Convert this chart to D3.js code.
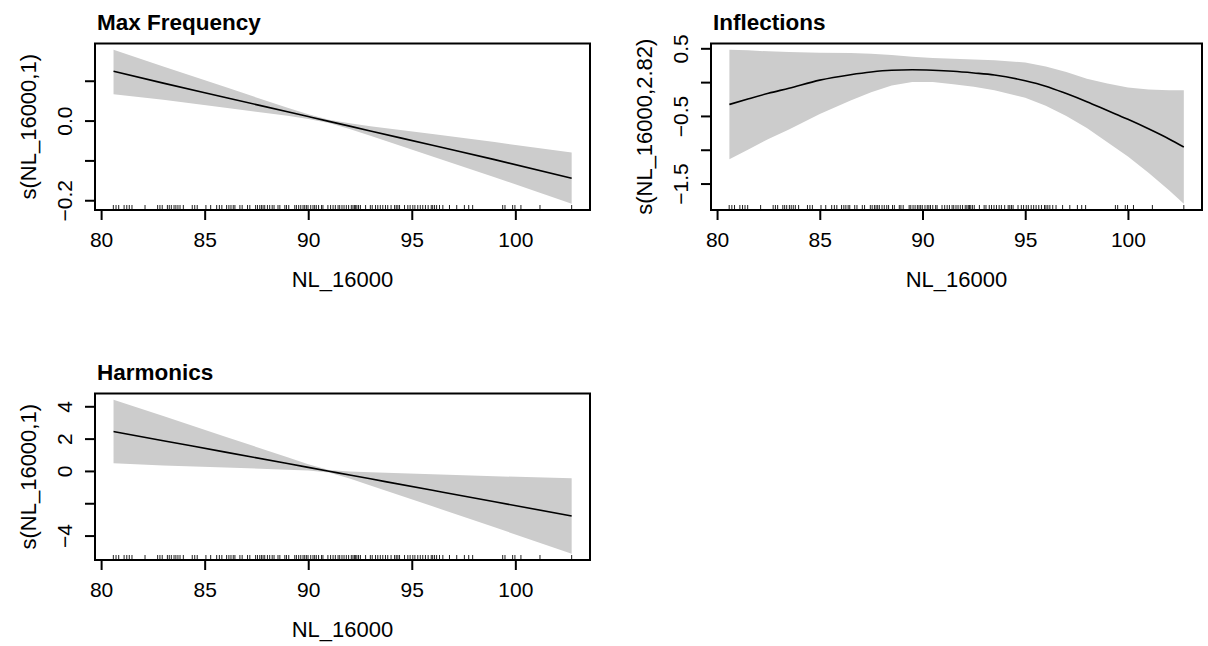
<!DOCTYPE html>
<html>
<head>
<meta charset="utf-8">
<script src="https://cdn.jsdelivr.net/npm/d3@7"></script>
<style>
  body { margin: 0; background: #fff; }
  svg { display: block; font-family: "Liberation Sans", Arial, sans-serif; }
  .tick line { stroke: #000; stroke-width: 2; }
  .domain { stroke: #000; stroke-width: 2; }
</style>
</head>
<body>
<svg width="1208" height="646"></svg>
<script>
// observed NL_16000 values (rug)
var rugX = [80.59, 80.72, 80.85, 81.11, 81.24, 81.36, 81.49, 82.12, 82.73, 82.84, 82.95,
  83.2, 83.29, 83.39, 83.52, 83.61, 83.71, 83.81, 83.97, 84.4, 84.52, 84.64, 85.06, 85.29,
  85.58, 85.71, 85.83, 86.06, 86.17, 86.27, 86.38, 86.46, 86.7, 86.81, 87.07, 87.18, 87.46,
  87.55, 87.66, 87.74, 87.82, 87.9, 88.03, 88.14, 88.26, 88.35, 88.54, 88.63, 88.87, 88.95,
  89.06, 89.35, 89.43, 89.54, 89.64, 89.75, 89.83, 89.91, 89.99, 90.12, 90.23, 90.31, 90.39,
  90.5, 90.64, 90.71, 90.95, 91.08, 91.2, 91.31, 91.44, 91.52, 91.63, 91.73, 91.84, 91.95,
  92.08, 92.16, 92.23, 92.29, 92.35, 92.43, 92.52, 92.77, 93.0, 93.09, 93.25, 93.36, 93.48,
  93.6, 93.73, 93.84, 94.0, 94.17, 94.25, 94.33, 94.41, 94.65, 94.81, 94.92, 95.05, 95.15,
  95.29, 95.41, 95.53, 95.66, 95.79, 95.94, 96.01, 96.1, 96.2, 96.34, 96.5, 96.82, 97.17,
  97.54, 97.75, 97.94, 99.39, 99.5, 99.87, 99.98, 100.27, 101.19, 102.72];

var xTicks = [80, 85, 90, 95, 100];

// linear smooths (Max Frequency, Harmonics)
var linX = [80.6, 83, 86, 89, 90, 91, 92, 93, 96, 99, 102.72];
var mfFit   = [0.124, 0.094, 0.058, 0.022, 0.010, -0.002, -0.014, -0.026, -0.062, -0.098, -0.145];
var mfUpper = [0.178, 0.136, 0.084, 0.032, 0.016, 0.002, -0.007, -0.014, -0.034, -0.054, -0.080];
var mfLower = [0.066, 0.052, 0.032, 0.012, 0.004, -0.006, -0.021, -0.038, -0.090, -0.142, -0.209];

var harFit   = [2.44, 1.873, 1.165, 0.456, 0.220, -0.016, -0.253, -0.489, -1.197, -1.906, -2.79];
var harUpper = [4.41, 3.40, 2.12, 0.84, 0.42, 0.06, -0.03, -0.08, -0.21, -0.33, -0.45];
var harLower = [0.47, 0.34, 0.22, 0.08, 0.02, -0.10, -0.47, -0.90, -2.19, -3.49, -5.13];

// Inflections smooth
var infX = [80.6, 81.5, 82.5, 83.5, 85, 86.5, 87.5, 88.5, 89.5, 90.5, 91.5, 92.5, 93.5,
  95, 96, 97, 98, 99, 100, 101, 102, 102.72];
var infFit = [-0.33, -0.25, -0.165, -0.09, 0.03, 0.11, 0.15, 0.175, 0.182, 0.175, 0.16, 0.135,
  0.105, 0.02, -0.06, -0.17, -0.29, -0.42, -0.55, -0.69, -0.84, -0.96];
var infUpper = [0.48, 0.47, 0.455, 0.445, 0.435, 0.43, 0.42, 0.40, 0.375, 0.355, 0.345, 0.335,
  0.325, 0.29, 0.23, 0.15, 0.05, -0.02, -0.08, -0.11, -0.12, -0.12];
var infLower = [-1.14, -1.0, -0.84, -0.7, -0.47, -0.27, -0.15, -0.05, 0.0, 0.0, -0.03, -0.07,
  -0.12, -0.23, -0.35, -0.5, -0.68, -0.89, -1.1, -1.34, -1.6, -1.8];

var mfYTicks = [-0.2, -0.1, 0.0, 0.1];
var mfYLabels = ["\u22120.2", "", "0.0", ""];
var infYTicks = [-1.5, -1, -0.5, 0, 0.5];
var infYLabels = ["\u22121.5", "", "\u22120.5", "", "0.5"];
var harYTicks = [-4, -2, 0, 2, 4];
var harYLabels = ["\u22124", "", "0", "2", "4"];

var panels = [
  {title: "Max Frequency", ylab: "s(NL_16000,1)", x: linX, fit: mfFit, up: mfUpper, lo: mfLower,
   ticks: mfYTicks, labels: mfYLabels, left: 95, right: 590, top: 43.5, bottom: 210},
  {title: "Inflections", ylab: "s(NL_16000,2.82)", x: infX, fit: infFit, up: infUpper, lo: infLower,
   ticks: infYTicks, labels: infYLabels, left: 711, right: 1202, top: 43.5, bottom: 210},
  {title: "Harmonics", ylab: "s(NL_16000,1)", x: linX, fit: harFit, up: harUpper, lo: harLower,
   ticks: harYTicks, labels: harYLabels, left: 95, right: 590, top: 393.5, bottom: 560}
];

var svg = d3.select("svg");

// R style 4% padding
function pad(ext) {
  var d = (ext[1] - ext[0]) * 0.04;
  return [ext[0] - d, ext[1] + d];
}

panels.forEach(function(p) {
  var g = svg.append("g");
  var x = d3.scaleLinear().domain(pad(d3.extent(rugX))).range([p.left, p.right]);
  var y = d3.scaleLinear().domain(pad([d3.min(p.lo), d3.max(p.up)])).range([p.bottom, p.top]);
  var pts = p.x.map(function(v, i) { return {x: v, f: p.fit[i], u: p.up[i], l: p.lo[i]}; });

  g.append("path")
    .datum(pts)
    .attr("fill", "#cccccc")
    .attr("d", d3.area().x(function(d) { return x(d.x); })
      .y0(function(d) { return y(d.l); }).y1(function(d) { return y(d.u); }));

  g.append("path")
    .datum(pts)
    .attr("fill", "none")
    .attr("stroke", "#000")
    .attr("stroke-width", 1.6)
    .attr("d", d3.line().curve(d3.curveMonotoneX).x(function(d) { return x(d.x); }).y(function(d) { return y(d.f); }));

  // rug
  g.selectAll(".rug")
    .data(rugX)
    .enter().append("line")
    .attr("x1", function(d) { return x(d); })
    .attr("x2", function(d) { return x(d); })
    .attr("y1", p.bottom)
    .attr("y2", p.bottom - 5)
    .attr("stroke", "#222")
    .attr("stroke-width", 1);

  // box
  g.append("rect")
    .attr("x", p.left).attr("y", p.top)
    .attr("width", p.right - p.left).attr("height", p.bottom - p.top)
    .attr("fill", "none").attr("stroke", "#000").attr("stroke-width", 2);

  var xa = g.append("g")
    .attr("transform", "translate(0," + p.bottom + ")")
    .call(d3.axisBottom(x).tickValues(xTicks).tickSize(10).tickSizeOuter(0).tickPadding(5));
  xa.select(".domain").attr("d", "M" + x(80) + ",0H" + x(100));
  xa.selectAll("text").attr("fill", "#000").style("font-size", "21px")
    .attr("y", 36.5).attr("dy", 0);

  var ya = g.append("g")
    .attr("transform", "translate(" + p.left + ",0)")
    .call(d3.axisLeft(y).tickValues(p.ticks).tickSize(10).tickSizeOuter(0)
      .tickFormat(function(d, i) { return p.labels[i]; }));
  ya.select(".domain").attr("d", "M0," + y(p.ticks[0]) + "V" + y(p.ticks[p.ticks.length - 1]));
  ya.selectAll("text")
    .attr("fill", "#000").style("font-size", "21px")
    .attr("transform", "rotate(-90)")
    .attr("x", 0).attr("y", -23).attr("dy", 0)
    .attr("text-anchor", "middle");

  g.append("text")
    .attr("x", p.left + 2).attr("y", p.top - 13.5)
    .style("font-size", "22.5px").style("font-weight", "bold")
    .text(p.title);

  g.append("text")
    .attr("x", (p.left + p.right) / 2).attr("y", p.bottom + 76.5)
    .attr("text-anchor", "middle")
    .style("font-size", "22px")
    .text("NL_16000");

  g.append("text")
    .attr("transform", "translate(" + (p.left - 59) + "," + ((p.top + p.bottom) / 2) + ") rotate(-90)")
    .attr("text-anchor", "middle")
    .style("font-size", "22px")
    .text(p.ylab);
});
</script>
</body>
</html>
